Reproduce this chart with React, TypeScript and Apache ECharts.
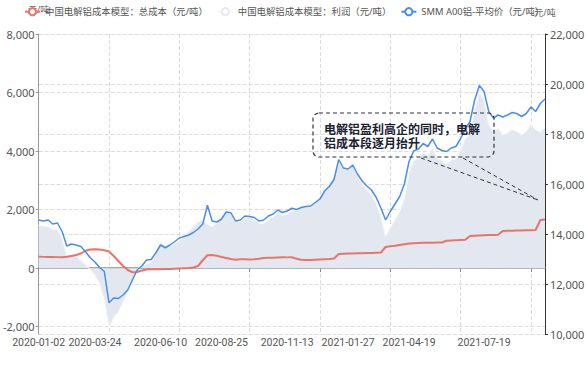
import React, { useEffect, useRef } from 'react';
import * as echarts from 'echarts';

const dates = [
  '2020-01-02','2020-01-09','2020-01-16','2020-01-23','2020-02-04','2020-02-11','2020-02-18','2020-02-25','2020-03-03','2020-03-09',
  '2020-03-13','2020-03-19','2020-03-24','2020-03-30','2020-04-03','2020-04-09','2020-04-15','2020-04-21','2020-04-27','2020-05-07',
  '2020-05-13','2020-05-19','2020-05-25','2020-05-29','2020-06-02','2020-06-05','2020-06-10','2020-06-16','2020-06-22','2020-06-30',
  '2020-07-06','2020-07-10','2020-07-16','2020-07-22','2020-07-28','2020-08-03','2020-08-07','2020-08-13','2020-08-19','2020-08-25',
  '2020-08-31','2020-09-04','2020-09-10','2020-09-16','2020-09-22','2020-09-28','2020-10-12','2020-10-16','2020-10-22','2020-10-28',
  '2020-11-03','2020-11-06','2020-11-10','2020-11-13','2020-11-19','2020-11-25','2020-12-01','2020-12-07','2020-12-11','2020-12-17',
  '2020-12-23','2020-12-29','2021-01-05','2021-01-08','2021-01-14','2021-01-20','2021-01-27','2021-02-02','2021-02-08','2021-02-19',
  '2021-02-25','2021-03-03','2021-03-09','2021-03-15','2021-03-19','2021-03-25','2021-03-31','2021-04-07','2021-04-13','2021-04-19',
  '2021-04-23','2021-04-29','2021-05-07','2021-05-13','2021-05-19','2021-05-25','2021-05-31','2021-06-04','2021-06-10','2021-06-17',
  '2021-06-23','2021-06-29','2021-07-05','2021-07-09','2021-07-14','2021-07-19','2021-07-23','2021-07-29','2021-08-04','2021-08-10',
  '2021-08-16','2021-08-20','2021-08-26','2021-09-01','2021-09-07','2021-09-13','2021-09-17','2021-09-24','2021-09-30'
];

const labelDates = ['2020-01-02','2020-03-24','2020-06-10','2020-08-25','2020-11-13','2021-01-27','2021-04-19','2021-07-19'];

const seriesNames = ['中国电解铝成本模型：总成本（元/吨）', '中国电解铝成本模型：利润（元/吨）', 'SMM A00铝-平均价（元/吨）'];

// right axis (元/吨)
const totalCost = [
  13090, 13085, 13080, 13080, 13075, 13070, 13090, 13120, 13160, 13220,
  13330, 13380, 13390, 13380, 13350, 13300, 13120, 12920, 12720, 12560,
  12470, 12480, 12540, 12580, 12590, 12590, 12590, 12600, 12600, 12610,
  12620, 12630, 12640, 12660, 12720, 12950, 13150, 13160, 13130, 13080,
  13040, 13000, 12970, 12990, 12990, 12980, 12990, 13010, 13040, 13050,
  13050, 13060, 13070, 13065, 13070, 13010, 12970, 12960, 12960, 12970,
  12980, 12990, 13000, 13020, 13200, 13210, 13220, 13220, 13230, 13230,
  13240, 13240, 13250, 13260, 13480, 13510, 13530, 13560, 13590, 13620,
  13630, 13640, 13650, 13650, 13650, 13660, 13660, 13730, 13740, 13750,
  13760, 13770, 13920, 13930, 13940, 13950, 13960, 13960, 13970, 14120,
  14130, 14130, 14140, 14140, 14150, 14150, 14160, 14560, 14580
];

// left axis (元/吨)
const profit = [
  1470, 1435, 1420, 1320, 1330, 1030, 430, 480, 430, 280,
  120, -50, -250, -550, -1100, -2050, -1700, -1500, -1180, -840,
  -450, -30, 60, 150, 200, 500, 900, 780, 760, 850,
  950, 1100, 1250, 1420, 1590, 1650, 1500, 1420, 1550, 1750,
  1930, 1880, 1650, 1600, 1740, 1760, 1650, 1540, 1520, 1670,
  1750, 1900, 1790, 1855, 1960, 1970, 2090, 2140, 2160, 2290,
  2420, 2730, 2900, 3160, 3650, 3430, 3380, 3540, 3170, 2890,
  2680, 2520, 2210, 1780, 1080, 1390, 1670, 1940, 2410, 3280,
  3690, 3760, 3970, 3850, 4150, 3780, 3680, 3570, 3700, 3750,
  4060, 4430, 4580, 5430, 6000, 5750, 4940, 4680, 4790, 4560,
  4630, 4730, 4680, 4560, 4670, 4930, 4740, 4660, 4820
];

// right axis (元/吨)
const avgPrice = [
  14560, 14520, 14560, 14400, 14440, 14100, 13520, 13600, 13560, 13500,
  13290, 13050, 12880, 12660, 12500, 11250, 11440, 11420, 11560, 11760,
  12160, 12560, 12720, 12960, 12980, 13250, 13560, 13450, 13560, 13690,
  13840, 13900, 13960, 14060, 14200, 14400, 15150, 14520, 14480, 14600,
  14880, 14850, 14520, 14560, 14720, 14700, 14660, 14520, 14560, 14720,
  14800, 14960, 14860, 14920, 15030, 14980, 15060, 15100, 15120, 15260,
  15400, 15720, 15900, 16180, 16980, 16640, 16600, 16760, 16400, 16120,
  15920, 15760, 15460, 15040, 14560, 14900, 15200, 15500, 16000, 16900,
  17320, 17400, 17620, 17500, 17800, 17440, 17340, 17300, 17440, 17500,
  17820, 18200, 18500, 19360, 19940, 19700, 18900, 18640, 18760, 18680,
  18760, 18860, 18820, 18700, 18820, 19080, 18900, 19220, 19400
];

const unitName = '元/吨';
const annotationText = '电解铝盈利高企的同时，电解\n铝成本段逐月抬升';

const FONT = "'Noto Sans', 'Noto Sans CJK SC', sans-serif";
const TICK_STEP = 15;

export default function App() {
  const ref = useRef<HTMLDivElement>(null);

  useEffect(() => {
    document.body.style.margin = '0';
    const chart = echarts.init(ref.current as HTMLDivElement, null, { renderer: 'svg' });

    const gridLine = { type: 'dashed', color: '#dcdcdc', width: 1 };
    const annoColor = '#2b3346';

    chart.setOption({
      animation: false,
      textStyle: { fontFamily: FONT },
      grid: { left: 36, right: 43, top: 34, bottom: 31, containLabel: false },
      legend: {
        data: seriesNames,
        left: 19,
        top: 2,
        itemWidth: 15,
        itemHeight: 9,
        itemGap: 9,
        textStyle: { color: '#555', fontSize: 9.4, fontFamily: FONT },
      },
      xAxis: [
        {
          type: 'category',
          data: dates,
          boundaryGap: false,
          position: 'bottom',
          axisLine: { show: true, onZero: true, onZeroAxisIndex: 0, lineStyle: { color: '#8c8c8c', width: 1.5 } },
          axisTick: { show: true, interval: TICK_STEP - 1, length: 4, lineStyle: { color: '#8c8c8c' } },
          axisLabel: { show: false },
          splitLine: { show: true, interval: TICK_STEP - 1, lineStyle: gridLine },
        },
        {
          type: 'category',
          data: dates,
          boundaryGap: false,
          position: 'bottom',
          axisLine: { show: false, onZero: false },
          axisTick: { show: false },
          splitLine: { show: false },
          axisLabel: {
            show: true,
            interval: (_i: number, v: string) => labelDates.includes(v),
            showMinLabel: true,
            showMaxLabel: true,
            margin: 3,
            color: '#555',
            fontSize: 10.5,
            fontFamily: "Roboto, 'Noto Sans', sans-serif",
          },
        },
      ],
      yAxis: [
        {
          type: 'value',
          position: 'left',
          min: -2250,
          max: 8000,
          splitNumber: 5,
          name: unitName,
          nameGap: 20,
          nameTextStyle: { fontSize: 9, color: '#666' },
          axisLine: { show: true, lineStyle: { color: '#999' } },
          axisTick: { show: true, length: 3, lineStyle: { color: '#999' } },
          axisLabel: { showMinLabel: false, margin: 4, color: '#555', fontSize: 11 },
          splitLine: { show: true, lineStyle: gridLine },
        },
        {
          type: 'value',
          position: 'right',
          min: 10000,
          max: 22000,
          interval: 2000,
          name: unitName,
          nameGap: 17,
          nameTextStyle: { fontSize: 9, color: '#666' },
          axisLine: { show: true, lineStyle: { color: '#333' } },
          axisTick: { show: true, length: 3, lineStyle: { color: '#333' } },
          axisLabel: { margin: 5, color: '#555', fontSize: 11 },
          splitLine: { show: true, lineStyle: gridLine },
        },
      ],
      series: [
        {
          name: seriesNames[0],
          type: 'line',
          xAxisIndex: 0,
          yAxisIndex: 1,
          symbol: 'emptyCircle',
          symbolSize: 4,
          showSymbol: true,
          z: 4,
          itemStyle: { color: '#e8746a' },
          lineStyle: { color: '#e8746a', width: 2 },
          data: totalCost.map((v, i) =>
            i % TICK_STEP === 0 && i > 0 ? { value: v } : { value: v, symbol: 'none' }
          ),
        },
        {
          name: seriesNames[1],
          type: 'line',
          xAxisIndex: 0,
          yAxisIndex: 0,
          symbol: 'emptyCircle',
          showSymbol: false,
          z: 2,
          itemStyle: { color: '#e6e9ee' },
          lineStyle: { color: '#f7f8fa', width: 1.2 },
          areaStyle: { color: '#e3e8f0', opacity: 1 },
          data: profit,
        },
        {
          name: seriesNames[2],
          type: 'line',
          xAxisIndex: 0,
          yAxisIndex: 1,
          symbol: 'emptyCircle',
          showSymbol: false,
          z: 5,
          itemStyle: { color: '#4a8fe7' },
          lineStyle: { color: '#4a8fe7', width: 1.5 },
          data: avgPrice,
        },
      ],
      graphic: [
        {
          type: 'rect',
          z: 20,
          shape: { x: 313, y: 113, width: 181, height: 44, r: 6 },
          style: { fill: 'rgba(255,255,255,0)', stroke: annoColor, lineWidth: 1.2, lineDash: [4, 3] },
        },
        {
          type: 'text',
          z: 21,
          x: 324,
          y: 121,
          style: {
            text: annotationText,
            fill: '#1c2231',
            fontSize: 12,
            fontWeight: 'bold',
            fontFamily: "'Noto Sans CJK SC', sans-serif",
            lineHeight: 14,
          },
        },
        {
          type: 'line',
          z: 20,
          shape: { x1: 421, y1: 158, x2: 538, y2: 200 },
          style: { stroke: annoColor, lineWidth: 1, lineDash: [4, 3] },
        },
        {
          type: 'line',
          z: 20,
          shape: { x1: 463, y1: 158, x2: 538, y2: 200 },
          style: { stroke: annoColor, lineWidth: 1, lineDash: [4, 3] },
        },
      ],
    });

    return () => chart.dispose();
  }, []);

  return <div ref={ref} style={{ width: 588, height: 365 }} />;
}
